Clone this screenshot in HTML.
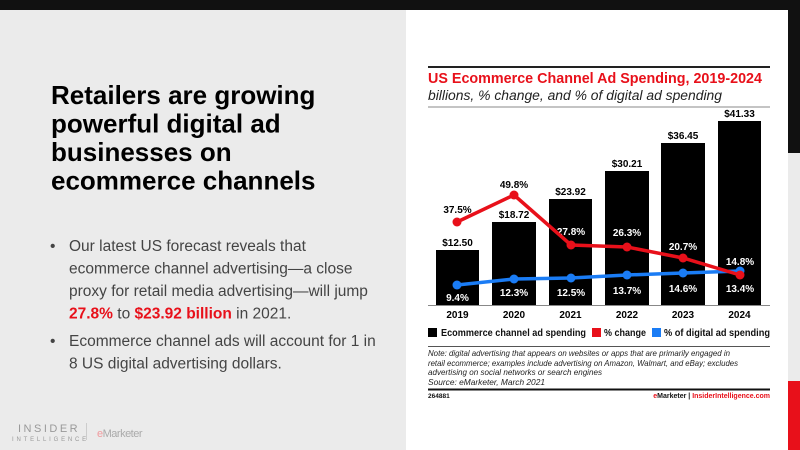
<!DOCTYPE html>
<html><head><meta charset="utf-8"><style>
html,body{margin:0;padding:0;width:800px;height:450px;overflow:hidden;background:#ebebeb}
svg{display:block}
</style></head><body>
<svg width="800" height="450" xmlns="http://www.w3.org/2000/svg" font-family="Liberation Sans, sans-serif">
<rect x="0" y="0" width="800" height="450" fill="#ebebeb"/>
<rect x="0" y="0" width="800" height="10" fill="#111"/>
<rect x="406" y="10" width="382" height="440" fill="#fff"/>
<rect x="788" y="0" width="12" height="153" fill="#111"/>
<rect x="788" y="381" width="12" height="69" fill="#e8101a"/>
<g font-weight="bold" font-size="26" fill="#000">
<text x="51" y="104">Retailers are growing</text>
<text x="51" y="132.5">powerful digital ad</text>
<text x="51" y="161">businesses on</text>
<text x="51" y="189.5">ecommerce channels</text>
</g>
<g font-size="15.5" fill="#444">
<text x="50" y="251">•</text>
<text x="69" y="251">Our latest US forecast reveals that</text>
<text x="69" y="273.5">ecommerce channel advertising—a close</text>
<text x="69" y="296">proxy for retail media advertising—will jump</text>
<text x="69" y="318.5"><tspan fill="#e8101a" font-weight="bold">27.8%</tspan> to <tspan fill="#e8101a" font-weight="bold">$23.92 billion</tspan> in 2021.</text>
<text x="50" y="346">•</text>
<text x="69" y="346">Ecommerce channel ads will account for 1 in</text>
<text x="69" y="368.5">8 US digital advertising dollars.</text>
</g>
<text x="18" y="432" font-size="11" letter-spacing="2.5" fill="#999">INSIDER</text>
<text x="12" y="441" font-size="6" letter-spacing="2.8" fill="#999">INTELLIGENCE</text>
<rect x="86" y="423" width="1" height="17" fill="#ccc"/>
<text x="97" y="437" font-size="11" fill="#aaa" letter-spacing="-0.5"><tspan fill="#f09a9e">e</tspan>Marketer</text>
<rect x="428" y="66" width="342" height="2" fill="#222"/>
<text x="428" y="83" font-size="14.5" font-weight="bold" fill="#e8101a" textLength="334" lengthAdjust="spacingAndGlyphs">US Ecommerce Channel Ad Spending, 2019-2024</text>
<text x="428" y="100" font-size="13.5" font-style="italic" fill="#222" textLength="294" lengthAdjust="spacingAndGlyphs">billions, % change, and % of digital ad spending</text>
<rect x="428" y="106.5" width="342" height="1" fill="#888"/>
<g fill="#000">
<rect x="436" y="250" width="43" height="55"/>
<rect x="492" y="222" width="44" height="83"/>
<rect x="549" y="199" width="43" height="106"/>
<rect x="605" y="171" width="44" height="134"/>
<rect x="661" y="143" width="44" height="162"/>
<rect x="718" y="121" width="43" height="184"/>
</g>
<rect x="428" y="305" width="342" height="1" fill="#888"/>
<g font-size="10" font-weight="bold" fill="#000" text-anchor="middle">
<text x="457.5" y="246">$12.50</text>
<text x="514" y="218">$18.72</text>
<text x="570.5" y="195">$23.92</text>
<text x="627" y="167">$30.21</text>
<text x="683" y="139">$36.45</text>
<text x="739.5" y="117">$41.33</text>
<text x="457.5" y="213">37.5%</text>
<text x="514" y="188">49.8%</text>
<text x="457.5" y="318">2019</text><text x="514" y="318">2020</text><text x="570.5" y="318">2021</text>
<text x="627" y="318">2022</text><text x="683" y="318">2023</text><text x="739.5" y="318">2024</text>
</g>
<g font-size="10" font-weight="bold" fill="#fff" text-anchor="middle">
<text x="571" y="235">27.8%</text>
<text x="627" y="236">26.3%</text>
<text x="683" y="250">20.7%</text>
<text x="740" y="265">14.8%</text>
<text x="457.5" y="301">9.4%</text>
<text x="514" y="296">12.3%</text>
<text x="571" y="296">12.5%</text>
<text x="627" y="294">13.7%</text>
<text x="683" y="292">14.6%</text>
<text x="740" y="292">13.4%</text>
</g>
<polyline points="457,285 514,279 571,278 627,275 683,273 740,271" fill="none" stroke="#1a7cf5" stroke-width="3.5"/>
<g fill="#1a7cf5"><circle cx="457" cy="285" r="4.5"/><circle cx="514" cy="279" r="4.5"/><circle cx="571" cy="278" r="4.5"/><circle cx="627" cy="275" r="4.5"/><circle cx="683" cy="273" r="4.5"/><circle cx="740" cy="271" r="4.5"/></g>
<polyline points="457,222 514,195 571,245 627,247 683,258 740,275" fill="none" stroke="#e8101a" stroke-width="3.5"/>
<g fill="#e8101a"><circle cx="457" cy="222" r="4.5"/><circle cx="514" cy="195" r="4.5"/><circle cx="571" cy="245" r="4.5"/><circle cx="627" cy="247" r="4.5"/><circle cx="683" cy="258" r="4.5"/><circle cx="740" cy="275" r="4.5"/></g>
<rect x="428" y="328" width="9" height="9" fill="#000"/>
<text x="441" y="336" font-size="10" font-weight="bold" fill="#111" textLength="145" lengthAdjust="spacingAndGlyphs">Ecommerce channel ad spending</text>
<rect x="592" y="328" width="9" height="9" fill="#e8101a"/>
<text x="604" y="336" font-size="10" font-weight="bold" fill="#111" textLength="42" lengthAdjust="spacingAndGlyphs">% change</text>
<rect x="652" y="328" width="9" height="9" fill="#1a7cf5"/>
<text x="664" y="336" font-size="10" font-weight="bold" fill="#111" textLength="106" lengthAdjust="spacingAndGlyphs">% of digital ad spending</text>
<rect x="428" y="346" width="342" height="1" fill="#555"/>
<g font-size="8.3" font-style="italic" fill="#222">
<text x="428" y="356" textLength="302" lengthAdjust="spacingAndGlyphs">Note: digital advertising that appears on websites or apps that are primarily engaged in</text>
<text x="428" y="366" textLength="310" lengthAdjust="spacingAndGlyphs">retail ecommerce; examples include advertising on Amazon, Walmart, and eBay; excludes</text>
<text x="428" y="375" textLength="174" lengthAdjust="spacingAndGlyphs">advertising on social networks or search engines</text>
<text x="428" y="385" textLength="117" lengthAdjust="spacingAndGlyphs">Source: eMarketer, March 2021</text>
</g>
<rect x="428" y="388.5" width="342" height="2" fill="#111"/>
<text x="428" y="398" font-size="6.5" font-weight="bold" fill="#111">264881</text>
<text x="770" y="398" font-size="7" font-weight="bold" fill="#111" text-anchor="end"><tspan fill="#e8101a">e</tspan>Marketer  |  <tspan fill="#e8101a">InsiderIntelligence.com</tspan></text>
</svg>
</body></html>
